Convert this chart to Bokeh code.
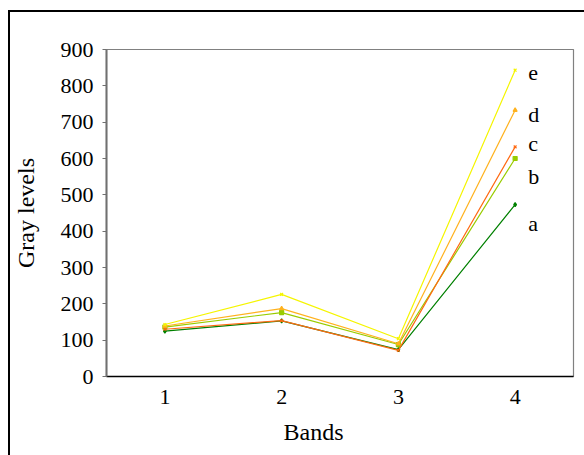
from bokeh.plotting import figure
from bokeh.models import Range1d, FixedTicker, Title
from bokeh.core.properties import value
from bokeh.embed import file_html
from bokeh.resources import INLINE

bands = [1, 2, 3, 4]
series_names = ["a", "b", "c", "d", "e"]
a_vals = [125, 153, 74, 473]
b_vals = [136, 176, 88, 600]
c_vals = [130, 154, 72, 632]
d_vals = [139, 187, 90, 733]
e_vals = [143, 226, 104, 843]
y_ticks = [0, 100, 200, 300, 400, 500, 600, 700, 800, 900]

FONT = "Liberation Serif"
FS = "22px"
LFS = "24px"

p = figure(width=584, height=455, output_backend="svg", toolbar_location=None,
           x_range=Range1d(0.5, 4.5), y_range=Range1d(0, 900),
           min_border_left=106, min_border_top=49, min_border_right=11, min_border_bottom=79)

# outer chart-area border drawn behind a transparent canvas
p.border_fill_color = None
p.background_fill_color = "white"
p.styles = {
    "background-color": "white",
    "background-image": "linear-gradient(black, black), linear-gradient(black, black)",
    "background-size": "2px 100%, 100% 2px",
    "background-position": "8px 10px, 8px 10px",
    "background-repeat": "no-repeat",
}

p.xgrid.visible = False
p.ygrid.visible = False
p.outline_line_color = "#808080"
p.outline_line_width = 1.2

p.xaxis.ticker = FixedTicker(ticks=bands)
p.yaxis.ticker = FixedTicker(ticks=y_ticks)
p.yaxis.axis_label = "Gray levels"
for ax in (p.xaxis, p.yaxis):
    ax.axis_label_text_font = FONT
    ax.axis_label_text_font_size = LFS
    ax.axis_label_text_font_style = "normal"
    ax.major_label_text_font = FONT
    ax.major_label_text_font_size = FS
    ax.major_label_text_color = "black"
    ax.axis_label_text_color = "black"
    ax.minor_tick_line_color = None

p.xaxis.axis_line_color = "black"
p.xaxis.axis_line_width = 1.5
p.xaxis.major_tick_line_color = None
p.xaxis.major_label_standoff = 7

p.yaxis.axis_line_color = "#707070"
p.yaxis.axis_line_width = 2
p.yaxis.major_tick_line_color = "#707070"
p.yaxis.major_tick_out = 4
p.yaxis.major_tick_in = 0
p.yaxis.major_label_standoff = 9
p.yaxis.axis_label_standoff = 19

# x-axis title, placed left of centre as in the original
p.add_layout(Title(text="Bands", align="left", offset=177, standoff=21,
                   text_font=FONT, text_font_size=LFS, text_font_style="normal",
                   text_color="black"), "below")

styles = [
    ("a", a_vals, "#008000", "diamond", 19),
    ("b", b_vals, "#99CC00", "square", 18),
    ("c", c_vals, "#FF6A13", "x", -3),
    ("d", d_vals, "#FFB21E", "triangle", 4),
    ("e", e_vals, "#F5F500", "x", 3),
]

for name, vals, color, marker, yoff in styles:
    p.line(bands, vals, line_color=color, line_width=1.2)
    p.scatter(bands, vals, marker=marker, size=4, line_color=color, fill_color=color, line_width=1.2)
    p.text(x=[bands[-1]], y=[vals[-1]], text=[name], x_offset=13, y_offset=yoff,
           text_font=value(FONT), text_font_size=FS, text_color="black",
           text_baseline="middle", text_align="left")

open("out.html", "w").write(file_html(p, INLINE))
